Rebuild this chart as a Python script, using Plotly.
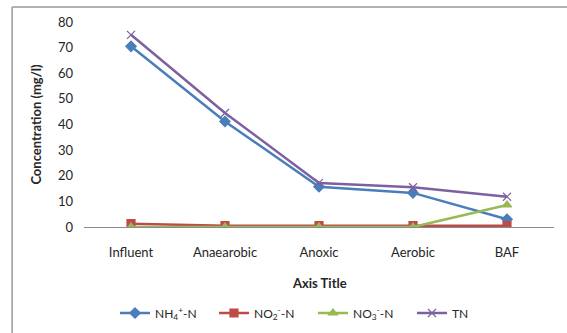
import plotly.graph_objects as go

categories = ["Influent", "Anaearobic", "Anoxic", "Aerobic", "BAF"]
nh4 = [70.5, 41.2, 15.7, 13.3, 3.0]
no2 = [1.3, 0.5, 0.5, 0.5, 0.5]
no3 = [0.0, 0.0, 0.0, 0.0, 8.6]
tn = [75.0, 44.5, 17.2, 15.5, 11.8]
y_ticks = [0, 10, 20, 30, 40, 50, 60, 70, 80]

series = [
    ("NH<sub>4</sub><sup>+</sup>-N", nh4, "#4A7EBB", "diamond", 8),
    ("NO<sub>2</sub><sup>-</sup>-N", no2, "#BE4B48", "square", 8),
    ("NO<sub>3</sub><sup>-</sup>-N", no3, "#98B954", "triangle-up", 8),
    ("TN", tn, "#7D60A0", "x-thin", 8),
]

fig = go.Figure()
for name, vals, color, sym, size in series:
    fig.add_trace(go.Scatter(
        x=categories, y=vals, name=name, mode="lines+markers",
        line=dict(color=color, width=2.5),
        marker=dict(symbol=sym, size=size, color=color,
                    line=dict(color=color, width=1.2)),
    ))

font = "Lato, 'Open Sans', sans-serif"
fig.update_layout(
    template="none",
    width=567, height=333,
    margin=dict(l=84, r=13, t=22, b=106, autoexpand=False),
    paper_bgcolor="white", plot_bgcolor="white",
    font=dict(family=font, size=13, color="#262626"),
    showlegend=True,
    legend=dict(orientation="h", xref="container", yref="container",
                x=0.552, xanchor="center", y=0.06, yanchor="middle",
                font=dict(size=12), itemwidth=30, entrywidth=54,
                bgcolor="rgba(0,0,0,0)"),
    xaxis=dict(showline=True, linecolor="#8c8c8c", linewidth=1, showgrid=False,
               ticks="", ticklabelstandoff=13, range=[-0.5, 4.5], zeroline=False,
               automargin=False),
    yaxis=dict(range=[0, 80], tickvals=y_ticks, showgrid=False, showline=False,
               zeroline=False, ticks="", ticklabelstandoff=10, automargin=False),
    annotations=[
        dict(text="<b>Axis Title</b>", xref="paper", yref="paper", x=0.5, y=-0.273,
             xanchor="center", yanchor="middle", showarrow=False, font=dict(size=13, color="#262626")),
        dict(text="<b>Concentration (mg/l)</b>", xref="paper", yref="paper", x=-0.104, y=0.5,
             xanchor="center", yanchor="middle", textangle=-90, showarrow=False,
             font=dict(size=13, color="#262626")),
    ],
    shapes=[
        dict(type="line", xref="paper", yref="paper", x0=-0.153, x1=1.2, y0=1.073, y1=1.073,
             line=dict(color="#9a9a9a", width=1.5)),
        dict(type="line", xref="paper", yref="paper", x0=-0.153, x1=-0.153, y0=1.073, y1=-0.6,
             line=dict(color="#9a9a9a", width=1.5)),
    ],
)
fig.write_html("out.html")
